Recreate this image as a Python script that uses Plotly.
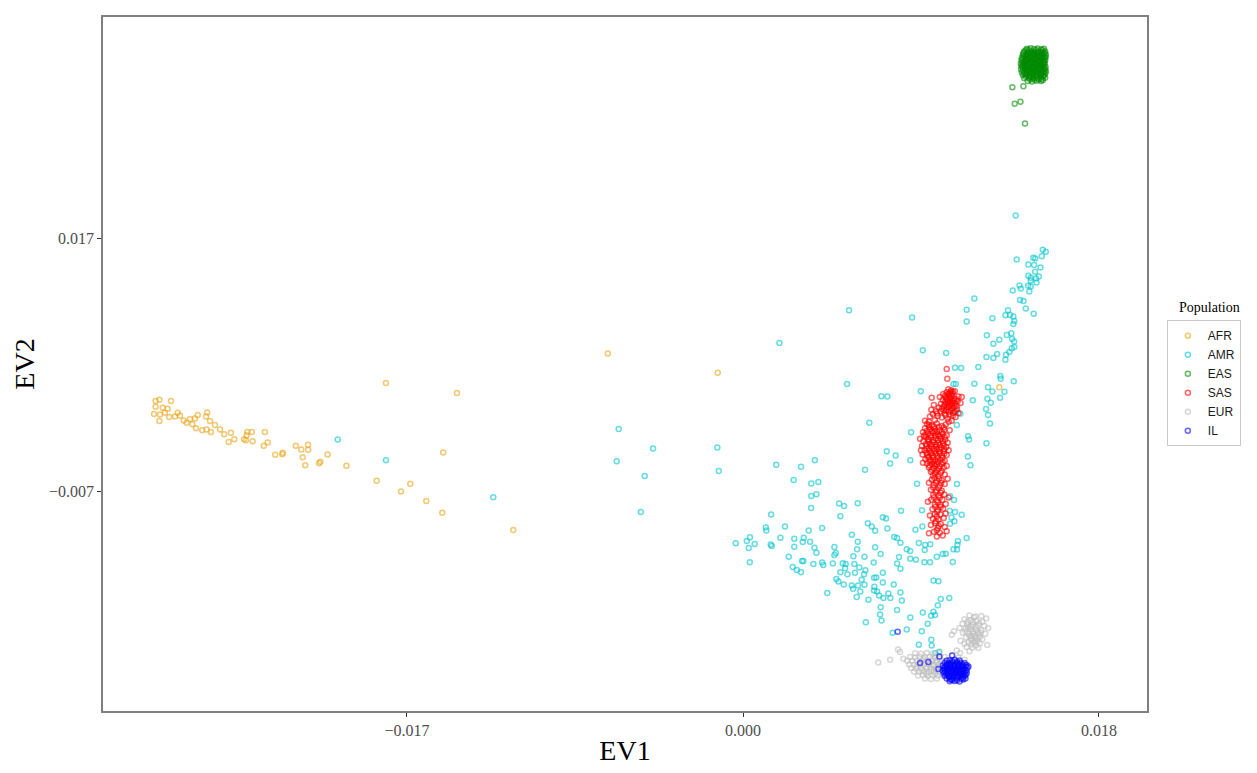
import plotly.graph_objects as go

# values are in thousandths (x 1e-3) of the eigenvector units
afr_pts = [
    (-29.71, 1.57), (-29.52, 1.69), (-28.93, 1.57), (-29.71, 1.03), (-29.35, 0.94), (-29.10, 0.84),
    (-29.79, 0.34), (-29.49, 0.30), (-29.24, 0.46), (-29.52, -0.32), (-29.02, 0.06), (-28.73, 0.11),
    (-28.59, 0.46), (-28.48, 0.21), (-28.29, -0.27), (-28.14, -0.48), (-27.97, -0.13), (-27.85, -0.64),
    (-27.72, -0.08), (-27.58, 0.24), (-27.67, -1.02), (-27.35, -1.21), (-27.13, -1.14), (-27.10, 0.49),
    (-27.16, 0.11), (-26.96, -0.32), (-26.91, -1.36), (-26.71, -0.70), (-26.45, -1.12), (-26.24, -1.59),
    (-25.90, -1.43), (-26.01, -2.31), (-25.73, -2.06), (-25.24, -2.06), (-25.10, -1.68), (-24.85, -1.36),
    (-25.07, -1.36), (-25.14, -2.15), (-24.80, -2.25), (-24.18, -1.36), (-24.04, -2.37), (-24.24, -2.68),
    (-23.66, -3.53), (-23.28, -3.35), (-23.30, -3.48), (-22.62, -2.68), (-22.34, -3.03), (-22.00, -2.59),
    (-21.99, -3.06), (-22.27, -3.76), (-22.14, -4.52), (-21.38, -4.20), (-21.44, -4.33), (-21.01, -3.51),
    (-20.06, -4.57), (-18.06, 3.30), (-14.47, 2.35), (-15.17, -3.32), (-18.53, -5.99), (-17.30, -7.03),
    (-16.83, -6.28), (-16.02, -7.92), (-15.21, -9.05), (-11.62, -10.69), (-6.84, 6.10), (-1.28, 4.27),
    (12.96, 2.89),
]

amr_pts = [
    (-20.50, -2.09), (-18.06, -4.05), (-12.63, -7.57), (-6.29, -1.08), (-4.55, -2.94), (-6.39, -4.14),
    (-4.97, -5.56), (-5.17, -8.96), (-1.30, -2.85), (-1.23, -5.08), (1.84, 7.08),
    (6.39, -0.48), (8.50, -1.40), (1.68, -4.48), (2.93, -4.67), (3.63, -4.05), (2.56, -5.94), (3.45, -6.25),
    (3.81, -6.12), (3.45, -7.45), (3.71, -7.29), (3.44, -8.58), (1.42, -9.21), (4.86, -8.17), (5.11, -8.39),
    (5.80, -8.14), (4.92, -9.37), (6.17, -4.95), (7.27, -3.19), (7.72, -3.60), (7.44, -4.36), (8.46, -4.05),
    (8.80, -6.28), (7.99, -8.86), (7.07, -9.46), (7.23, -9.58), (6.31, -10.03), (6.51, -10.34), (6.68, -10.75),
    (7.30, -10.53), (4.00, -10.50), (3.32, -10.72), (2.12, -10.34), (1.15, -10.44), (1.18, -10.72),
    (1.89, -11.42), (0.35, -11.38), (0.19, -11.73), (0.59, -12.01), (-0.37, -11.95), (0.29, -12.39),
    (0.34, -13.74), (1.40, -12.06), (1.45, -12.20), (2.59, -11.51), (3.07, -11.42), (3.39, -11.79),
    (3.02, -11.82), (2.59, -12.27), (3.61, -12.36), (3.71, -12.83), (2.31, -13.21), (2.98, -13.62),
    (3.05, -13.62), (2.51, -14.19), (2.72, -14.47), (2.93, -14.69), (3.56, -13.90), (4.00, -13.78),
    (4.06, -14.00), (4.62, -12.30), (4.69, -12.86), (4.62, -13.05), (5.50, -11.13), (5.80, -11.79),
    (5.77, -12.51), (6.68, -12.32), (6.96, -12.96), (5.58, -13.17), (6.14, -13.21), (6.61, -13.78),
    (5.04, -13.84), (5.19, -13.90), (5.63, -13.90), (4.54, -13.87), (5.88, -14.25), (5.16, -14.31),
    (4.92, -14.69), (5.28, -14.88), (5.66, -14.75), (6.19, -14.50), (6.12, -14.88), (7.07, -14.75),
    (6.74, -15.20), (6.00, -15.41), (6.63, -15.22), (4.72, -15.34), (4.82, -15.57), (5.09, -15.86),
    (5.50, -15.95), (5.56, -16.26), (5.82, -15.95), (5.93, -16.52), (6.14, -15.89), (7.07, -15.67),
    (6.64, -16.08), (6.78, -16.52), (6.63, -16.43), (5.75, -17.05), (6.34, -17.30), (6.88, -16.90),
    (7.10, -17.14), (7.45, -17.14), (7.35, -16.71), (7.62, -15.86), (7.96, -16.61), (8.03, -17.37),
    (6.96, -18.03), (7.79, -18.28), (6.93, -18.72), (7.00, -19.29), (6.21, -19.45), (7.57, -20.45),
    (8.28, -20.14), (8.46, -19.00), (9.04, -20.30), (9.34, -19.60), (9.09, -18.53), (9.51, -18.82),
    (9.63, -18.44), (9.71, -18.75), (9.85, -17.84), (10.00, -17.24), (10.43, -17.14), (9.63, -15.48),
    (9.88, -15.54), (7.65, -11.35), (7.79, -11.44), (7.96, -11.89), (7.89, -13.24), (7.79, -13.87),
    (7.96, -14.37), (8.28, -12.51), (8.45, -12.67), (8.46, -13.40), (8.74, -13.50), (8.89, -11.92),
    (9.21, -12.11), (9.47, -12.04), (9.19, -12.58), (9.17, -13.74), (9.46, -13.74), (9.80, -13.21),
    (10.10, -12.96), (10.25, -12.93), (10.61, -13.71), (10.64, -12.51), (10.84, -12.08), (10.87, -11.73),
    (10.82, -12.54), (11.31, -11.44), (8.72, -10.66), (9.07, -10.34), (9.05, -8.80), (10.45, -8.86),
    (11.06, -9.24), (10.72, -8.96), (10.54, -9.49), (10.69, -9.84), (10.47, -10.09), (10.82, -6.31),
    (10.67, -7.83), (10.47, -7.48), (10.81, -0.70), (11.38, -1.78), (11.43, -2.09), (11.37, -3.70),
    (11.50, -4.52), (4.26, -16.67),
    (9.52, -21.11), (9.54, -21.65), (8.89, -21.58), (9.73, -22.38), (9.93, -22.25),
    (13.79, 19.20), (15.16, 15.96), (15.31, 15.77), (15.11, 15.33), (14.68, 15.18), (14.78, 15.11),
    (13.84, 15.02), (14.43, 14.54), (14.72, 14.51), (15.04, 14.26), (14.77, 13.85), (14.43, 13.48),
    (14.55, 13.29), (14.96, 13.41), (14.82, 13.22), (14.55, 13.03), (14.84, 12.84), (13.98, 12.56),
    (14.05, 12.28), (14.42, 12.53), (14.55, 12.46), (14.48, 11.99), (13.64, 12.09), (14.01, 11.17),
    (14.18, 11.07), (14.30, 10.38), (14.70, 9.88), (13.40, 10.20), (13.27, 9.72), (13.50, 9.75),
    (13.67, 9.60), (13.72, 9.19), (13.67, 8.90), (12.61, 9.44), (11.70, 11.33), (11.31, 10.26),
    (11.31, 9.13), (12.33, 7.83), (12.66, 7.01), (12.96, 7.39), (13.34, 7.86), (13.57, 8.02),
    (13.61, 7.46), (13.71, 7.24), (13.59, 6.60), (13.72, 6.70), (13.47, 6.23), (13.30, 5.97),
    (12.85, 6.04), (12.66, 5.66), (12.31, 5.75), (13.27, 5.50), (11.90, 4.81), (11.03, 4.71),
    (13.01, 3.96), (13.03, 3.70), (13.69, 3.46), (11.70, 3.23), (12.39, 2.89), (12.61, 2.48),
    (13.22, 2.45), (12.36, 1.79), (12.53, 1.41), (13.00, 1.88), (11.62, 1.66),
    (8.55, 9.51), (9.09, 6.39), (10.27, 6.13), (10.72, 4.74), (10.64, 3.20), (10.76, 3.20),
    (8.99, 2.51), (7.00, 2.04), (7.30, 2.00), (10.79, 0.62), (12.29, 0.81), (12.39, 0.24),
    (12.49, -0.55), (10.99, 0.37), (12.31, -2.44), (5.36, 10.20), (5.26, 3.20),
]

eas_pts = [
    (14.35, 35.05), (14.55, 35.10), (14.72, 35.02), (14.90, 35.08), (15.08, 35.00), (15.22, 35.06),
    (14.22, 34.80), (14.40, 34.74), (14.58, 34.82), (14.76, 34.76), (14.95, 34.80), (15.12, 34.72), (15.28, 34.79),
    (14.15, 34.50), (14.32, 34.46), (14.50, 34.54), (14.68, 34.48), (14.86, 34.52), (15.04, 34.45), (15.20, 34.53), (15.32, 34.48),
    (14.10, 34.20), (14.28, 34.25), (14.45, 34.18), (14.62, 34.24), (14.80, 34.20), (14.98, 34.26), (15.15, 34.19), (15.30, 34.23),
    (14.08, 33.96), (14.25, 33.92), (14.42, 33.98), (14.60, 33.93), (14.78, 33.97), (14.95, 33.91), (15.12, 33.96), (15.28, 33.94),
    (14.05, 33.66), (14.22, 33.70), (14.40, 33.63), (14.58, 33.68), (14.75, 33.64), (14.92, 33.69), (15.10, 33.62), (15.26, 33.67),
    (14.08, 33.38), (14.26, 33.34), (14.44, 33.40), (14.62, 33.36), (14.80, 33.41), (14.98, 33.35), (15.16, 33.39), (15.30, 33.33),
    (14.06, 33.10), (14.24, 33.13), (14.42, 33.07), (14.60, 33.12), (14.78, 33.08), (14.96, 33.14), (15.14, 33.09), (15.28, 33.12),
    (14.10, 32.82), (14.28, 32.78), (14.46, 32.84), (14.64, 32.80), (14.82, 32.85), (15.00, 32.79), (15.18, 32.83), (15.32, 32.86),
    (14.15, 32.55), (14.32, 32.58), (14.50, 32.52), (14.68, 32.57), (14.86, 32.53), (15.04, 32.58), (15.22, 32.50),
    (14.22, 32.25), (14.45, 32.28), (14.66, 32.22), (14.88, 32.27), (15.10, 32.21), (15.28, 32.30),
    (14.40, 32.00), (14.62, 31.95), (14.85, 32.02), (15.08, 31.98),
    (14.30, 34.92), (14.65, 34.62), (14.98, 34.35), (14.35, 34.05), (14.70, 33.80), (15.05, 33.52),
    (14.33, 33.25), (14.70, 32.95), (15.07, 32.68), (14.55, 32.40), (14.20, 33.55), (15.20, 33.80),
    (14.45, 34.95), (14.82, 34.93), (15.15, 34.90),
    (14.19, 34.64), (14.37, 34.61), (14.55, 34.67), (14.73, 34.63), (14.91, 34.66), (15.09, 34.60), (15.25, 34.65),
    (14.19, 34.36), (14.37, 34.39), (14.55, 34.33), (14.73, 34.38), (14.91, 34.34), (15.09, 34.37), (15.25, 34.31),
    (14.16, 34.08), (14.36, 34.11), (14.53, 34.06), (14.71, 34.10), (14.89, 34.05), (15.07, 34.12), (15.23, 34.07),
    (14.14, 33.80), (14.33, 33.83), (14.51, 33.78), (14.68, 33.82), (14.86, 33.77), (15.03, 33.84), (15.20, 33.79),
    (14.13, 33.52), (14.31, 33.55), (14.49, 33.49), (14.67, 33.54), (14.85, 33.50), (15.02, 33.56), (15.22, 33.51),
    (14.15, 33.24), (14.34, 33.27), (14.52, 33.22), (14.70, 33.26), (14.88, 33.21), (15.06, 33.28), (15.22, 33.23),
    (14.17, 32.96), (14.35, 32.99), (14.53, 32.93), (14.72, 32.98), (14.90, 32.94), (15.08, 33.00), (15.25, 32.95),
    (14.22, 32.68), (14.40, 32.71), (14.58, 32.66), (14.76, 32.70), (14.94, 32.65), (15.12, 32.72), (15.27, 32.67),
    (14.30, 32.40), (14.48, 32.43), (14.66, 32.38), (14.84, 32.42), (15.02, 32.37), (15.18, 32.44),
    (14.52, 32.12), (14.74, 32.10), (14.96, 32.14), (15.16, 32.08),
    (13.62, 31.39), (14.18, 31.49), (13.74, 29.82), (14.03, 30.01), (14.26, 27.96),
]

sas_pts = [
    (10.30, 4.62), (10.33, 3.70), (11.06, 1.97), (9.54, 1.88), (10.71, 2.51),
    (10.30, 2.40), (10.45, 2.30), (10.55, 2.15), (10.62, 2.45), (10.40, 2.05), (10.25, 1.95), (10.50, 1.90),
    (10.68, 1.80), (10.35, 1.70), (10.58, 1.60), (10.22, 1.50), (10.45, 1.45), (10.72, 1.35), (10.30, 1.25),
    (10.55, 1.20), (10.15, 1.05), (10.40, 1.00), (10.62, 0.95), (10.80, 1.10), (10.85, 1.55), (10.90, 2.00),
    (10.10, 1.70), (10.00, 1.30), (10.05, 0.85), (10.28, 0.70), (10.50, 0.65), (10.70, 0.55), (9.90, 0.95),
    (9.75, 0.60), (10.20, 0.40), (10.45, 0.30), (10.62, 0.20), (9.60, 0.35), (9.45, 0.10), (9.85, 0.15),
    (10.05, 0.00), (10.35, -0.10), (10.55, -0.30), (9.40, -0.40), (9.70, -0.25), (10.75, 0.05), (10.90, 0.45),
    (11.00, 1.40), (10.12, 2.25), (10.52, 2.60), (10.38, 2.70), (9.95, 1.95), (9.65, 1.20), (9.52, 0.75),
    (10.38, 2.22), (10.60, 2.30), (10.28, 1.80), (10.48, 1.75), (10.66, 1.62), (10.35, 1.45), (10.60, 1.38),
    (10.20, 1.25), (10.45, 1.15), (10.70, 1.05), (10.30, 0.95), (10.55, 0.85), (10.15, 0.70), (10.40, 0.55),
    (10.62, 0.45), (10.00, 0.60), (10.25, 0.20), (9.80, 0.40), (10.78, 1.75), (10.50, 2.45), (10.22, 2.10),
    (10.82, 0.80),
    (9.30, -0.60), (9.55, -0.75), (9.80, -0.55), (10.05, -0.80), (10.25, -0.65), (9.20, -1.00), (9.45, -1.10),
    (9.70, -1.05), (9.95, -1.20), (10.18, -1.15), (9.10, -1.40), (9.35, -1.50), (9.60, -1.45), (9.85, -1.60),
    (10.10, -1.55), (10.30, -1.70), (9.25, -1.85), (9.50, -1.90), (9.75, -1.95), (10.00, -2.00), (10.22, -2.10),
    (9.12, -2.25), (9.38, -2.30), (9.62, -2.35), (9.88, -2.40), (10.12, -2.45), (9.05, -2.70), (9.28, -2.70),
    (9.52, -2.75), (9.78, -2.80), (10.02, -2.85), (10.28, -2.80), (9.18, -3.10), (9.42, -3.15), (9.68, -3.20),
    (9.92, -3.25), (10.15, -3.20), (9.08, -3.50), (9.32, -3.55), (9.58, -3.60), (9.82, -3.65), (10.06, -3.60),
    (10.30, -3.55), (9.22, -3.95), (9.48, -4.00), (9.72, -4.05), (9.98, -4.00), (10.20, -4.10), (9.30, -4.35),
    (9.55, -4.40), (9.80, -4.45), (10.05, -4.40), (9.40, -4.75), (9.65, -4.80), (9.90, -4.85), (10.15, -4.75),
    (9.50, -5.15), (9.75, -5.20), (10.00, -5.25), (9.60, -5.50), (9.88, -5.55), (10.20, -5.40),
    (9.42, -0.90), (9.68, -1.30), (9.90, -1.75), (9.40, -2.05), (9.85, -2.15), (9.55, -2.55), (9.95, -2.60),
    (9.30, -2.95), (9.80, -3.00), (9.55, -3.40), (9.95, -3.40), (9.40, -3.75), (9.85, -3.85), (9.60, -4.20),
    (10.10, -4.25), (9.70, -4.60), (9.15, -1.75), (10.35, -2.40), (10.40, -3.10), (8.95, -2.00), (9.00, -3.10),
    (9.10, -4.30), (10.30, -4.60), (10.45, -1.20), (9.20, -0.30), (10.40, -0.40),
    (9.40, -0.70), (9.65, -0.85), (9.90, -0.90), (10.15, -0.95), (9.30, -1.25), (9.55, -1.30), (9.80, -1.35),
    (10.05, -1.38), (9.22, -1.60), (9.48, -1.68), (9.72, -1.70), (9.98, -1.78), (10.20, -1.85), (9.35, -2.10),
    (9.62, -2.15), (10.10, -2.25), (9.25, -2.50), (9.45, -2.50), (9.75, -2.55), (10.15, -2.65), (9.40, -2.90),
    (9.65, -2.95), (9.92, -3.00), (10.18, -3.00), (9.28, -3.35), (9.48, -3.35), (9.75, -3.42), (10.18, -3.40),
    (9.35, -3.78), (9.62, -3.80), (10.08, -3.82), (9.45, -4.20), (9.85, -4.22), (9.42, -4.55), (9.68, -4.40),
    (9.95, -4.62), (9.55, -4.95), (9.80, -5.00), (10.05, -5.05), (9.70, -5.35),
    (9.55, -5.90), (9.80, -6.00), (10.05, -5.95), (9.65, -6.40), (9.95, -6.45), (10.20, -6.30), (9.50, -6.85),
    (9.78, -6.90), (10.05, -6.95), (9.62, -7.35), (9.90, -7.40), (10.18, -7.30), (9.52, -7.80), (9.80, -7.85),
    (10.08, -7.80), (9.70, -8.25), (9.98, -8.30), (10.25, -8.20), (9.58, -8.70), (9.85, -8.75), (10.12, -8.65),
    (9.70, -9.15), (9.98, -9.20), (9.45, -9.30), (10.25, -9.10), (9.60, -9.60), (9.88, -9.65), (10.15, -9.55),
    (9.72, -10.05), (10.00, -10.10), (9.50, -10.20), (9.85, -10.50), (10.20, -10.40), (9.65, -10.85),
    (9.95, -10.95), (9.80, -11.30), (10.10, -11.20), (9.40, -11.00), (10.30, -10.80), (9.35, -8.00),
    (10.40, -7.60), (9.40, -6.20), (10.35, -5.80),
    (9.68, -5.75), (9.92, -5.80), (9.75, -6.20), (10.02, -6.20), (9.62, -6.65), (9.90, -6.70), (9.75, -7.10),
    (10.00, -7.15), (9.65, -7.60), (9.95, -7.62), (9.85, -8.05), (9.72, -8.50), (10.00, -8.50), (9.82, -8.95),
    (9.80, -9.40), (9.75, -9.85), (9.90, -10.30), (9.80, -10.70),
]

eur_pts = [
    (11.45, -18.80), (11.75, -18.90), (12.05, -18.85), (12.30, -19.10), (11.20, -19.15), (11.50, -19.25),
    (11.80, -19.30), (12.10, -19.40), (11.10, -19.60), (11.35, -19.65), (11.62, -19.70), (11.90, -19.75),
    (12.20, -19.80), (11.25, -20.05), (11.50, -20.10), (11.78, -20.15), (12.05, -20.20), (11.12, -20.45),
    (11.40, -20.50), (11.65, -20.55), (11.92, -20.60), (12.25, -20.55), (11.28, -20.90), (11.55, -20.95),
    (11.82, -21.00), (12.10, -21.05), (11.40, -21.35), (11.70, -21.40), (11.98, -21.45), (11.30, -21.80),
    (11.60, -21.85), (11.90, -21.90), (11.45, -22.20), (12.35, -21.60), (11.00, -21.20), (10.95, -20.00),
    (12.40, -20.00), (11.68, -19.00), (11.38, -19.95), (11.88, -20.40), (11.55, -20.70), (11.72, -21.20),
    (11.62, -19.45), (11.35, -19.40), (11.95, -19.55), (11.50, -19.85), (11.78, -19.90), (11.25, -20.30),
    (11.62, -20.32), (12.00, -20.42), (11.45, -20.75), (11.72, -20.80), (11.98, -20.85), (11.55, -21.15),
    (11.85, -21.25), (11.55, -21.55), (11.78, -21.65), (11.20, -21.50),
    (10.56, -20.64), (10.67, -20.30), (10.81, -22.12), (10.98, -22.38),
    (6.84, -23.26), (7.44, -23.00), (7.94, -22.28), (8.11, -22.91), (7.84, -22.03),
    (8.70, -22.40), (9.00, -22.44), (9.30, -22.38), (9.60, -22.42), (9.90, -22.36),
    (8.45, -22.75), (8.70, -22.79), (8.95, -22.73), (9.20, -22.77), (9.45, -22.72), (9.70, -22.78), (9.95, -22.74), (10.20, -22.76),
    (8.30, -23.10), (8.55, -23.14), (8.80, -23.08), (9.05, -23.12), (9.30, -23.07), (9.55, -23.13), (9.80, -23.09), (10.05, -23.11), (10.30, -23.06),
    (8.40, -23.45), (8.65, -23.48), (8.90, -23.42), (9.15, -23.47), (9.40, -23.43), (9.65, -23.49), (9.90, -23.44), (10.15, -23.46), (10.40, -23.41),
    (8.50, -23.80), (8.75, -23.84), (9.00, -23.78), (9.25, -23.83), (9.50, -23.79), (9.75, -23.82), (10.00, -23.77), (10.25, -23.81),
    (8.65, -24.15), (8.90, -24.18), (9.15, -24.13), (9.40, -24.17), (9.65, -24.12), (9.90, -24.16), (10.15, -24.14),
    (8.85, -24.50), (9.10, -24.47), (9.35, -24.52), (9.60, -24.48), (9.85, -24.51), (10.10, -24.46),
    (9.20, -24.80), (9.50, -24.83), (9.80, -24.78),
    (9.12, -22.92), (9.58, -22.95), (9.92, -22.90), (8.98, -23.28), (9.42, -23.30), (9.78, -23.27),
    (8.78, -23.62), (9.28, -23.65), (9.62, -23.60), (9.95, -23.63), (9.05, -23.98), (9.52, -24.00),
    (9.80, -23.96), (9.28, -24.32), (9.72, -24.35),
    (10.60, -22.60), (10.90, -22.80), (11.20, -23.00), (11.30, -23.50), (10.50, -24.60), (11.00, -24.90),
]

il_pts = [
    (10.45, -23.05), (10.70, -23.02), (10.95, -23.07),
    (10.20, -23.30), (10.40, -23.33), (10.60, -23.28), (10.80, -23.32), (11.00, -23.29), (11.20, -23.31),
    (10.10, -23.55), (10.30, -23.58), (10.50, -23.53), (10.70, -23.57), (10.90, -23.54), (11.10, -23.56), (11.30, -23.52),
    (10.15, -23.80), (10.35, -23.83), (10.55, -23.78), (10.75, -23.82), (10.95, -23.79), (11.15, -23.81), (11.35, -23.77),
    (10.10, -24.05), (10.30, -24.08), (10.50, -24.03), (10.70, -24.07), (10.90, -24.04), (11.10, -24.06), (11.30, -24.02),
    (10.15, -24.30), (10.35, -24.33), (10.55, -24.28), (10.75, -24.32), (10.95, -24.29), (11.15, -24.31), (11.32, -24.27),
    (10.20, -24.55), (10.40, -24.58), (10.60, -24.53), (10.80, -24.57), (11.00, -24.54), (11.20, -24.56),
    (10.30, -24.80), (10.55, -24.83), (10.80, -24.78), (11.05, -24.82), (11.25, -24.79),
    (10.45, -25.05), (10.70, -25.02), (10.95, -25.07),
    (10.58, -23.15), (10.82, -23.18), (10.30, -23.44), (10.50, -23.42), (10.70, -23.45), (10.90, -23.41),
    (11.10, -23.43), (10.22, -23.68), (10.45, -23.70), (10.65, -23.66), (10.85, -23.71), (11.05, -23.68),
    (11.25, -23.65), (10.20, -23.93), (10.40, -23.95), (10.60, -23.91), (10.80, -23.96), (11.00, -23.92),
    (11.20, -23.94), (10.22, -24.18), (10.42, -24.20), (10.62, -24.16), (10.82, -24.21), (11.02, -24.17),
    (11.22, -24.19), (10.28, -24.43), (10.48, -24.45), (10.68, -24.41), (10.88, -24.46), (11.08, -24.42),
    (11.26, -24.44), (10.42, -24.68), (10.65, -24.70), (10.90, -24.66), (11.12, -24.69), (10.58, -24.93),
    (10.82, -24.95),
    (8.95, -23.32), (9.37, -23.23), (9.88, -23.89), (9.93, -22.69), (10.30, -23.10), (10.47, -24.89),
    (11.14, -24.89), (11.40, -23.64), (7.82, -20.36), (10.57, -22.60),
]

populations = ["AFR", "AMR", "EAS", "SAS", "EUR", "IL"]
point_sets = [afr_pts, amr_pts, eas_pts, sas_pts, eur_pts, il_pts]
colors = ["#E8A317", "#00C5CD", "#008B00", "#FF0000", "#BEBEBE", "#0000FF"]

x_ticks = [-0.017, 0.0, 0.018]
x_ticktext = ["\u22120.017", "0.000", "0.018"]
y_ticks = [0.017, -0.007]
y_ticktext = ["0.017", "\u22120.007"]

fig = go.Figure()
for name, pts, col in zip(populations, point_sets, colors):
    fig.add_trace(go.Scatter(
        x=[p[0] / 1000 for p in pts],
        y=[p[1] / 1000 for p in pts],
        mode="markers",
        name=name,
        marker=dict(symbol="circle-open", size=5, color=col, opacity=0.6,
                    line=dict(width=1.5, color=col)),
    ))

serif = "Liberation Serif, Times New Roman, serif"
fig.update_layout(
    autosize=True,
    margin=dict(l=103, r=110, t=17, b=58),
    paper_bgcolor="white", plot_bgcolor="white",
    showlegend=True,
    legend=dict(
        x=1.019, xanchor="left", y=0.563, yanchor="top",
        bordercolor="#C8C8C8", borderwidth=1,
        font=dict(family="Liberation Sans, Arial, sans-serif", size=12, color="#1a1a1a"),
        tracegroupgap=0, itemwidth=30,
    ),
    annotations=[dict(
        text="Population", xref="paper", yref="paper", x=1.0594, y=0.568,
        xanchor="center", yanchor="bottom", showarrow=False,
        font=dict(family=serif, size=14, color="black"),
    )],
)
fig.update_xaxes(
    range=[-0.03237, 0.02043], showgrid=False, zeroline=False,
    showline=True, mirror=True, linecolor="#7F7F7F", linewidth=1.5,
    ticks="outside", ticklen=4, tickcolor="#333333",
    tickvals=x_ticks, ticktext=x_ticktext,
    tickfont=dict(family=serif, size=16, color="#4D4D4D"),
    title=dict(text="EV1", font=dict(family=serif, size=28, color="black"), standoff=2),
)
fig.update_yaxes(
    range=[-0.02788, 0.03807], showgrid=False, zeroline=False,
    showline=True, mirror=True, linecolor="#7F7F7F", linewidth=1.5,
    ticks="outside", ticklen=4, tickcolor="#333333",
    tickvals=y_ticks, ticktext=y_ticktext,
    tickfont=dict(family=serif, size=16, color="#4D4D4D"),
    title=dict(text="EV2", font=dict(family=serif, size=28, color="black"), standoff=6),
)

fig.write_html("out.html", default_width="100%", default_height="100%")
